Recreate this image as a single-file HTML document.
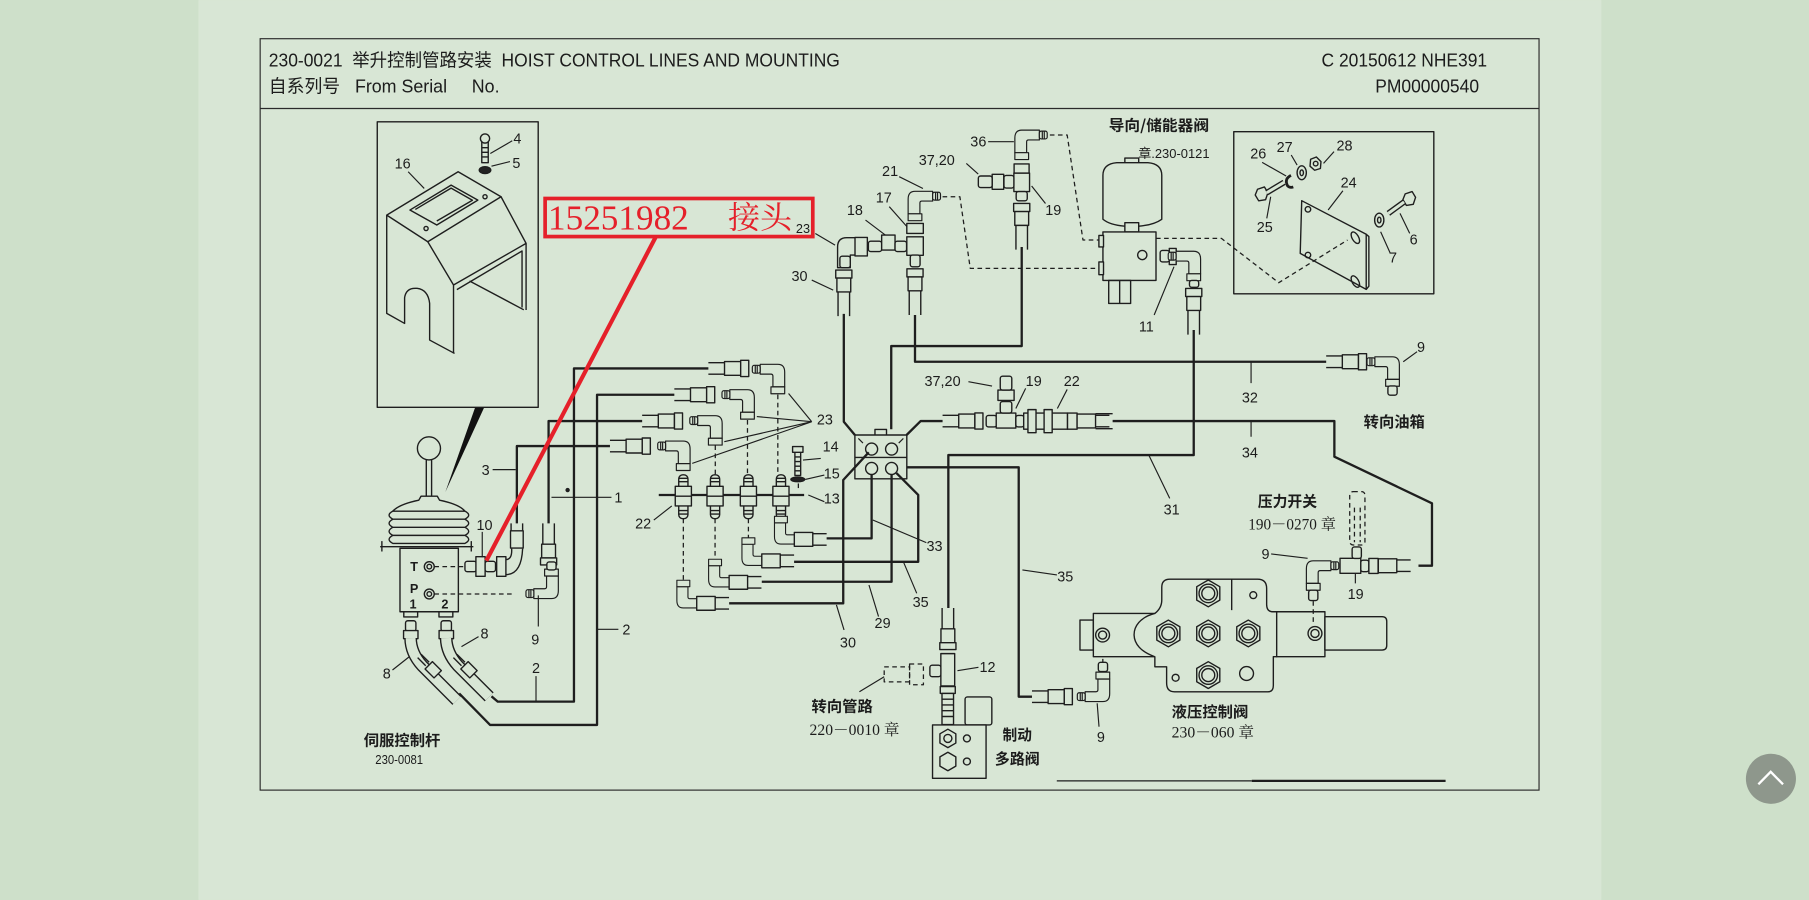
<!DOCTYPE html>
<html><head><meta charset="utf-8"><style>
html,body{margin:0;padding:0;width:1809px;height:900px;overflow:hidden;background:#cee0ca;}
svg{display:block}
text{font-family:"Liberation Sans","Noto Sans CJK SC",sans-serif;fill:#1c1c1c;stroke:none}
.f{fill:#d8e6d5}
.p{stroke-width:2}
.t{stroke-width:1}
.d{stroke-dasharray:4 3;stroke-width:1.1}
.lb{font-size:12.5px;text-anchor:middle}
.cj{font-family:"Noto Sans CJK SC","WenQuanYi Zen Hei",sans-serif;font-weight:bold;font-size:13px}
.sf{font-family:"Liberation Serif","Noto Serif CJK SC",serif;font-size:13.5px}
.red1{font-family:"Liberation Serif",serif;font-size:30px;fill:#e5202a}
.red2{font-family:"Noto Serif CJK SC","Liberation Serif",serif;font-size:27px;fill:#e5202a}
.jl{font-size:11px;font-weight:bold;text-anchor:middle}
</style></head><body>
<svg width="1809" height="900" viewBox="0 0 1568 780" xmlns="http://www.w3.org/2000/svg">
<defs>
<g id="hr" class="f"><path d="M0,-5H14M0,5H14" fill="none"/><rect x="14" y="-6" width="14" height="12"/><rect x="28" y="-7" width="7" height="14"/></g>
<g id="hl" class="f"><rect x="0" y="-6" width="16" height="12"/><path d="M16,-5H28M16,5H28" fill="none"/></g>
<g id="hd" class="f"><rect x="-7" y="0" width="14" height="7"/><rect x="-6" y="7" width="12" height="12"/><path d="M-5,19V40M5,19V40" fill="none"/></g>
<g id="hu" class="f"><path d="M-5,0V18M5,0V18" fill="none"/><rect x="-6" y="18" width="12" height="12"/><rect x="-7" y="30" width="14" height="6"/></g>
<g id="el" class="f"><path d="M-18,-5H0Q7,-5 7,3V18H-5V7Q-5,5 -7,5H-18Z"/><rect x="-26" y="-4" width="8" height="8" rx="2"/><path d="M-23,-4V4M-21,-4V4" fill="none"/><rect x="-7" y="18" width="14" height="7"/></g>
<g id="bh" class="f"><rect x="-4" y="0" width="8" height="38" rx="3.5"/><rect x="-7" y="10" width="14" height="17"/><path d="M-7,18.5H7M-4,3H4M-4,6H4M-4,31H4M-4,34H4" fill="none"/></g>
<g id="port" class="f"><polygon points="0,-11.6 10,-5.8 10,5.8 0,11.6 -10,5.8 -10,-5.8"/><circle r="8"/><circle r="5.6"/></g>
</defs>

<!-- backgrounds -->
<rect width="1568" height="780" fill="#cee0ca"/>
<rect x="172" y="0" width="1216" height="780" fill="#d8e6d5"/>

<!-- frame -->
<g fill="none" stroke="#2a2a2a" stroke-width="1">
<rect x="225.5" y="33.5" width="1108.5" height="651.3"/>
<line x1="225.5" y1="94" x2="1334" y2="94"/>
</g>
<text x="233" y="57.5" font-size="16" textLength="495" lengthAdjust="spacingAndGlyphs" xml:space="preserve">230-0021  举升控制管路安装  HOIST CONTROL LINES AND MOUNTING</text>
<text x="233" y="80.3" font-size="16" textLength="200" lengthAdjust="spacingAndGlyphs" xml:space="preserve">自系列号   From Serial     No.</text>
<text x="1145.5" y="57.5" font-size="16" textLength="143.5" lengthAdjust="spacingAndGlyphs">C 20150612 NHE391</text>
<text x="1192" y="80.3" font-size="16" textLength="90" lengthAdjust="spacingAndGlyphs">PM00000540</text>

<g fill="none" stroke="#1e1e1e" stroke-width="1.2" stroke-linejoin="round">
<!-- cover inset -->
<rect x="327" y="105.5" width="139.5" height="247.5"/>
<path d="M335.2,186.4 L397.1,148.8 L434.3,170.5 L370.8,209.5 Z"/>
<path d="M355.3,182 L391,160.4 L414.2,173.4 L378.6,195 Z"/>
<path d="M360,181.5 L391,163 L409.5,173.5 L378.6,191.5"/>
<circle cx="369.3" cy="198" r="1.8"/><circle cx="420.4" cy="170.5" r="1.8"/>
<path d="M434.3,170.5 L456,210.9 V268.7 M393.1,247 L456,210.9 M370.8,209.5 L393.1,247 V306.3"/>
<path d="M335.2,186.4 V271.6 L350.7,280.3 V258 Q352,249 361.5,249.9 Q371,251 372.4,262.9 V294.7 L394,306.3"/>
<path d="M396,251 L452.5,217.5 V266.5 M407,243.5 L454,268.5"/>
<!-- bolt 4 washer 5 -->
<circle cx="420.4" cy="120" r="4"/>
<path d="M417.6,123 V141 H423.2 V123 M417.6,128H423.2M417.6,132H423.2M417.6,136H423.2"/>
<ellipse cx="420.4" cy="147.4" rx="5" ry="3" fill="#222"/>
<path class="t" d="M425,133 L444,122 M426,144 L442,140 M353.8,148.8 L367.7,163.3"/>
</g>
<polygon points="411.7,353.5 419.5,353.5 386,426.5" fill="#111"/>

<text class="lb" x="349" y="146">16</text>
<text class="lb" x="448.5" y="124.5">4</text>
<text class="lb" x="447.6" y="145.5">5</text>

<!-- main drawing -->
<g fill="none" stroke="#1e1e1e" stroke-width="1.2" stroke-linejoin="round">
<!-- left pipes -->
<path class="p" d="M614,319.3 H497.5 V608.1 H431.4 L426,603.5"/>
<path class="p" d="M584.5,342.1 H517.5 V628.3 H424.8 L398,601"/>
<path class="p" d="M556.6,364.9 H475.5 V453.6"/>
<path class="p" d="M528.7,386.6 H448 V453.6"/>
<circle cx="492" cy="424.7" r="1.3" fill="#222"/>
<!-- joystick -->
<circle cx="371.8" cy="388.6" r="10"/>
<path d="M369.5,398.5 V430 M374.1,398.5 V430"/>
<path d="M365,430 H379 L381,433.5 Q398,437 403,443 H340.5 Q346,437 363,433.5 Z" class="f"/>
<path d="M340.5,443 Q334,446.5 340.5,450 H403 Q409.5,446.5 403,443 M340.5,450 Q334,453.5 340.5,457 H403 Q409.5,453.5 403,450 M340.5,457 Q334,460.5 340.5,464 H403 Q409.5,460.5 403,457 M340.5,464 Q334,467.5 340.5,471 H403 Q409.5,467.5 403,464"/>
<path d="M329.5,473.8 H410.3 M331,469 V478 M408.5,469 V478"/>
<rect x="346.7" y="475.2" width="50.6" height="55" class="f"/>
<circle cx="372.1" cy="491.1" r="4.3"/><circle cx="372.1" cy="491.1" r="2"/>
<circle cx="372.1" cy="514.8" r="4.3"/><circle cx="372.1" cy="514.8" r="2"/>
<rect x="350" y="530.2" width="12" height="4.5"/><rect x="380.5" y="530.2" width="12" height="4.5"/>
<path class="d" d="M376.5,491.1 H403 M376.5,514.8 H446"/>
<!-- fitting 10 -->
<rect x="403" y="486.5" width="10" height="9" rx="2" class="f"/>
<rect x="412.5" y="482.5" width="8" height="17" class="f"/>
<rect x="420.5" y="486.5" width="9" height="9" rx="2" class="f"/>
<rect x="430.5" y="482.5" width="8" height="17" class="f"/>
<path d="M438.5,485 Q444,485 443.5,475.5 M438.5,498 Q452,498 453,475.5"/>
<path d="M443,453.6 V475.3 M453,453.6 V475.3"/>
<rect x="442.5" y="460" width="11" height="15" class="f"/>
<use href="#hu" x="475.5" y="453.6"/>
<!-- elbow 9 joystick -->
<use href="#el" transform="translate(478,514.5) scale(0.85,-0.85)"/>
<rect x="474" y="487" width="8" height="7" rx="2" class="f"/>
<!-- fittings 8 -->
<rect x="351.5" y="538" width="9" height="9" rx="2" class="f"/>
<rect x="349.8" y="546.5" width="12.5" height="7" class="f"/>
<rect x="382.3" y="538" width="9" height="9" rx="2" class="f"/>
<rect x="380.6" y="546.5" width="12.5" height="7" class="f"/>
<path d="M355.9,553 Q356,566 366,577 L396,607" stroke="#1e1e1e" stroke-width="11"/>
<path d="M355.9,553 Q356,566 366,577 L396,607" stroke="#d8e6d5" stroke-width="8.6"/>
<path d="M386.7,553 Q387,566 397,577 L424,604" stroke="#1e1e1e" stroke-width="11"/>
<path d="M386.7,553 Q387,566 397,577 L424,604" stroke="#d8e6d5" stroke-width="8.6"/>
<path d="M362,570 L369,577 M365,567 L372,574 M393,570 L400,577 M396,567 L403,574"/>
<rect x="370" y="576" width="11" height="9" transform="rotate(45 375.5 580.5)" class="f"/>
<rect x="401" y="576" width="11" height="9" transform="rotate(45 406.5 580.5)" class="f"/>

<!-- left hose ends -->
<use href="#hr" x="614" y="319.3"/>
<use href="#hr" x="584.5" y="342.1"/>
<use href="#hr" x="556.6" y="364.9"/>
<use href="#hr" x="528.7" y="386.6"/>
<use href="#el" transform="translate(674.2,320) scale(0.85)"/>
<use href="#el" transform="translate(647.9,342) scale(0.85)"/>
<use href="#el" transform="translate(620,364.5) scale(0.85)"/>
<use href="#el" transform="translate(592.2,386.5) scale(0.85)"/>
<path class="d" d="M674.2,342 V411 M647.9,364 V411 M620,386 V411"/>
<!-- bulkhead plate -->
<path class="p" d="M571,429 H697"/>
<use href="#bh" x="592.3" y="411.5"/>
<use href="#bh" x="619.8" y="411.5"/>
<use href="#bh" x="648.7" y="411.5"/>
<use href="#bh" x="676.9" y="411.5"/>
<!-- bolt 14 / washer 15 -->
<rect x="687" y="387" width="9" height="5" class="f"/>
<path d="M689,392 V412 H694 V392 M689,396H694M689,400H694M689,404H694M689,408H694"/>
<ellipse cx="691.5" cy="415.5" rx="6" ry="2" fill="#222"/>
<path class="d" d="M692,419 V426"/>
<path class="d" d="M592.3,449.5 V503 M619.8,449.5 V485 M648.7,449.5 V466"/>
<!-- lower elbows -->
<use href="#el" transform="translate(592.3,522.9) rotate(180) scale(0.8)"/>
<use href="#el" transform="translate(619.8,504.7) rotate(180) scale(0.8)"/>
<use href="#el" transform="translate(648.7,486.1) rotate(180) scale(0.8)"/>
<use href="#el" transform="translate(676.9,467.5) rotate(180) scale(0.8)"/>
<use href="#hl" x="603.9" y="522.9"/>
<use href="#hl" x="632" y="504.7"/>
<use href="#hl" x="660.3" y="486.1"/>
<use href="#hl" x="688.5" y="467.5"/>

<!-- manifold block -->
<rect x="758.4" y="372.2" width="10" height="5" class="f"/>
<rect x="741" y="377" width="45" height="38" class="f"/>
<path d="M741,396.4 H786"/>
<circle cx="755.5" cy="389.2" r="5.2"/><circle cx="772.8" cy="389.2" r="5.2"/>
<circle cx="755.5" cy="406" r="5.2"/><circle cx="772.8" cy="406" r="5.2"/>
<path class="t" d="M744,380 L748,384 M783,380 L779,384"/>
<!-- manifold pipes -->
<path class="p" d="M731.4,272 V365.5 L741,377"/>
<path class="p" d="M885.6,214 V299.9 H772.5 V372"/>
<path class="p" d="M793.1,273 V313.5 H1149.5"/>
<path class="p" d="M785.8,377 L798,364.9 H817"/>
<path class="p" d="M964.4,364.9 H1156.6 V395.8 L1241.2,436.2 V490.3 H1229.5"/>
<path class="p" d="M1034.7,286 V394.4 H822 V527"/>
<path class="p" d="M786,405 H883 V603.8 H894.5"/>
<path class="p" d="M753,392 L730.9,416 V522.9 H632"/>
<path class="p" d="M755.5,411 V466.6 H716.5"/>
<path class="p" d="M772.8,411 V504.2 H660.3"/>
<path class="p" d="M777,410 L795.9,429 V486.9 H688.3"/>

<!-- top fittings -->
<path d="M726,232 V214 Q726,206 734,206 H742 V221 H737 V232 Z" class="f"/>
<rect x="741.1" y="205.8" width="10.7" height="16" class="f"/>
<rect x="728" y="222" width="9" height="10" rx="2" class="f"/>
<use href="#hd" x="731.4" y="234"/>
<rect x="752.7" y="209" width="11.5" height="9" rx="2" class="f"/>
<rect x="764.2" y="203.7" width="11.6" height="13" class="f"/>
<rect x="775.8" y="209" width="10" height="9" rx="2" class="f"/>
<rect x="786" y="205.2" width="14.3" height="16" class="f"/>
<rect x="786" y="193.6" width="14.3" height="8.7" class="f"/>
<rect x="789" y="221" width="8.5" height="10.2" rx="2" class="f"/>
<use href="#hd" x="793.1" y="233"/>
<use href="#el" transform="translate(793.1,170) scale(-0.85,0.85)"/>
<path class="d" d="M817,170.5 H832 L841,232.6 H956"/>
<!-- tee 19 top + 37,20 + elbow 36 -->
<rect x="878.8" y="150" width="13.6" height="16" class="f"/>
<rect x="870.2" y="152" width="8.6" height="11" rx="2" class="f"/>
<rect x="860" y="151" width="10" height="13" class="f"/>
<rect x="848" y="152.5" width="12" height="10" rx="2" class="f"/>
<rect x="880.8" y="166" width="9.6" height="8" rx="2" class="f"/>
<rect x="879" y="142" width="13" height="8" class="f"/>
<use href="#el" transform="translate(885.6,117) scale(-0.85,0.85)"/>
<use href="#hd" x="885.6" y="176.3"/>
<path class="d" d="M910,117 H925 L938.7,208 H956"/>
<!-- accumulator / valve -->
<rect x="975" y="137" width="12" height="6" class="f"/>
<path d="M956,190 V152 Q956,142 968,141 H995 Q1007,142 1007,152 V190 Q1000,195 987,196 H975 Q962,195 956,190 Z" class="f"/>
<rect x="975" y="193" width="12" height="8" class="f"/>
<rect x="956" y="201" width="46" height="42" class="f"/>
<rect x="952.5" y="204" width="4" height="10" class="f"/>
<rect x="952.5" y="227" width="4" height="11" class="f"/>
<circle cx="990.1" cy="221" r="4"/>
<rect x="961" y="243" width="19" height="20"/>
<path d="M970.5,243 V263"/>
<path class="d" d="M1002,206.6 H1058.7 L1108.4,245 L1168,208"/>
<!-- fitting 11 -->
<rect x="1005.6" y="217" width="8" height="10" rx="2" class="f"/>
<rect x="1013.5" y="215.3" width="6" height="14" class="f"/>
<use href="#el" transform="translate(1034.7,222) scale(0.85)"/>
<rect x="1031" y="243" width="8" height="6" rx="2" class="f"/>
<use href="#hd" x="1034.7" y="250"/>
<!-- plate inset -->
<rect x="1069.4" y="114.1" width="173.4" height="140.5"/>
<path d="M1128.3,173.9 L1184.2,203 V250.8 L1127,219.6 Z"/>
<path d="M1184.2,203 L1186.5,205 V248 L1184.2,250.8"/>
<circle cx="1133.7" cy="181.4" r="2.4"/><circle cx="1133.7" cy="221" r="2.4"/>
<ellipse cx="1174.8" cy="206" rx="2.8" ry="5.5" transform="rotate(-30 1174.8 206)"/>
<ellipse cx="1174.8" cy="244" rx="2.8" ry="5.5" transform="rotate(-30 1174.8 244)"/>
<polygon points="1090,164 1096,162 1099,167 1097,173 1091,174 1088,169" class="f"/>
<path d="M1098,167 L1113,158" stroke-width="5"/>
<path d="M1098,167 L1113,158" stroke="#d8e6d5" stroke-width="2.6"/>
<path d="M1119,152 Q1113,155 1116,161 Q1118,163 1121,162" stroke-width="2.4"/>
<ellipse cx="1128.3" cy="149.7" rx="4" ry="6"/><ellipse cx="1128.3" cy="149.7" rx="1.5" ry="2.5"/>
<polygon points="1136,138 1141,136 1145,140 1144.5,146 1139.5,147.5 1135.5,144" class="f"/>
<circle cx="1140.4" cy="141.8" r="2"/>
<polygon points="1218,168 1224,166 1227,171 1225,177 1219,178 1216,173" class="f"/>
<path d="M1217,175 L1203.4,184.9" stroke-width="5"/>
<path d="M1217,175 L1203.4,184.9" stroke="#d8e6d5" stroke-width="2.6"/>
<ellipse cx="1195.5" cy="190.7" rx="4" ry="6"/><ellipse cx="1195.5" cy="190.7" rx="1.5" ry="2.5"/>
<!-- tank hose / elbow 9 -->
<use href="#hr" x="1149.5" y="313.5"/>
<use href="#el" transform="translate(1207,313.5) scale(0.85)"/>
<rect x="1203" y="334.5" width="8" height="8" rx="2" class="f"/>
<!-- middle tee assembly -->
<use href="#hr" x="817" y="364.9"/>
<rect x="854.8" y="360" width="9" height="10" rx="2" class="f"/>
<rect x="863.5" y="358" width="17" height="13" class="f"/>
<rect x="867" y="348" width="10" height="10" rx="2" class="f"/>
<rect x="865" y="338" width="14" height="9" class="f"/>
<rect x="867" y="326" width="10" height="12" rx="2" class="f"/>
<rect x="880.5" y="360" width="7" height="10" rx="2" class="f"/>
<rect x="887.3" y="358" width="38" height="14" class="f"/>
<rect x="891" y="355" width="7" height="20" class="f"/>
<rect x="905" y="355" width="7" height="20" class="f"/>
<rect x="925.3" y="358" width="8.3" height="14" class="f"/>
<use href="#hl" x="933.6" y="364.9"/>
<path d="M949.6,358.5 H964.4 M949.6,371.5 H964.4"/>
<!-- line 35 right end / elbow 9 bottom -->
<use href="#hr" x="894.5" y="603.8"/>
<use href="#el" transform="translate(955.9,603.8) scale(0.85,-0.85)"/>
<rect x="952" y="574" width="8" height="8" rx="2" class="f"/>
<path class="d" d="M955.9,557 V574"/>
<!-- hydraulic control valve -->
<rect x="936.1" y="537.4" width="11.6" height="26" class="f"/>
<rect x="947.7" y="531.7" width="53.4" height="37.5" class="f"/>
<path class="f" d="M1001,531.7 C988,535 983,543 983,550 C983,558 989,565 1001,569.2 V577.9 H1011.2 V592 Q1011.2,599.6 1018,599.6 H1099 Q1103.7,599.6 1103.7,594 V569.2 H1106.6 V530.2 H1103 Q1098,530 1097.9,524 V510 Q1097.9,502 1090,502 H1014 Q1007,502 1007,509 V520 Q1007,527 1001,531.7 Z"/>
<path d="M1067.6,502 V528.8"/>
<rect x="1106.6" y="530.2" width="41.8" height="39" class="f"/>
<path class="f" d="M1148.4,534.5 H1198 Q1202,534.5 1202,538.5 V559.4 Q1202,563.4 1198,563.4 H1148.4 Z"/>
<use href="#port" x="1047.3" y="514.3"/>
<use href="#port" x="1012.7" y="549"/>
<use href="#port" x="1047.3" y="549"/>
<use href="#port" x="1082" y="549"/>
<use href="#port" x="1047.3" y="585.1"/>
<circle cx="1086.3" cy="515.8" r="3"/>
<circle cx="1019" cy="587.4" r="3"/>
<circle cx="1080.5" cy="583.7" r="6"/>
<circle cx="955.7" cy="550.4" r="6"/><circle cx="955.7" cy="550.4" r="3.5"/>
<circle cx="1139.8" cy="549" r="6"/><circle cx="1139.8" cy="549" r="3.5"/>
<!-- pressure switch -->
<rect class="d" x="1169.9" y="426.1" width="13.2" height="46.2" rx="3"/>
<path class="d" d="M1174,440 V470 M1179,440 V470"/>
<rect x="1161.5" y="483.9" width="18" height="13" class="f"/>
<rect x="1172" y="474" width="8" height="10" rx="2" class="f"/>
<rect x="1179.5" y="485.5" width="7" height="10" rx="2" class="f"/>
<rect x="1186.5" y="484" width="8" height="13" class="f"/>
<use href="#hl" x="1194.7" y="490.3"/>
<use href="#el" transform="translate(1138.3,490.3) scale(-0.85,0.85)"/>
<rect x="1134.3" y="511.5" width="8" height="9" rx="2" class="f"/>
<path class="d" d="M1138.3,521 V542"/>
<!-- brake valve assembly -->
<use href="#hu" x="821.6" y="527"/>
<rect x="815.5" y="566.5" width="12" height="28" class="f"/>
<rect x="806" y="576.5" width="9.5" height="10" rx="2" class="f"/>
<rect x="815" y="595" width="13" height="6" class="f"/>
<rect x="816.5" y="601" width="10" height="27" class="f"/>
<path d="M816.5,606H826.5M816.5,611H826.5M816.5,616H826.5M816.5,621H826.5"/>
<rect class="d" x="766.4" y="578" width="22" height="13"/>
<rect class="d" x="788.4" y="575.5" width="12" height="18"/>
<rect x="836.5" y="604" width="23.2" height="24.3" rx="2" class="f"/>
<rect x="808.3" y="628.3" width="46.4" height="46.3" class="f"/>
<polygon points="821.6,632 828.5,636 828.5,644 821.6,648 814.7,644 814.7,636"/>
<circle cx="821.6" cy="640" r="3.5"/>
<polygon points="821.6,652 828.5,656 828.5,664 821.6,668 814.7,664 814.7,656"/>
<circle cx="838.1" cy="640" r="3"/><circle cx="838.1" cy="660" r="3"/>

<!-- leaders -->
<g class="t">
<path d="M427,407 H447 M478,431 H530 M518,545.4 H536 M464.6,586 V608 M466.6,516 V543 M418,461 V483"/>
<path d="M414.8,551.8 L400,560.4 M340.2,580.7 L355,569 M566.7,450.7 L582.3,438.5"/>
<path d="M802.9,470.3 L756.5,450.7 M794.6,514.2 L783,486.8 M761.5,534.4 L753.2,507 M731.6,546 L725,524.3"/>
<path d="M703.6,365.5 L683.5,341 M703.6,365.5 L656,361 M703.6,365.5 L627.8,382.8 M703.6,365.5 L600,401.6"/>
<path d="M711.4,397.3 L696,398.7 M714.5,411.7 L698,415.5 M714.5,434.8 L700.6,429"/>
<path d="M750.2,190.7 L767.4,203.7 M770.8,179.1 L786.2,196.5 M779.4,153.1 L800,163.3 M837.6,141.6 L847.9,150.8 M856.5,122.8 L878.8,122.8 M894.2,161.2 L906.2,176.3"/>
<path d="M1000.4,273 L1017.6,231.1 M1228.3,304.8 L1216.3,313.5 M1084.4,313.5 V332 M1084.4,364.9 V378.5"/>
<path d="M839.4,330.8 L859.9,334.6 M889,336.6 L880.5,354 M925,337.5 L916.5,354 M703.6,242.7 L722.2,251.4 M706.7,202.3 L723.8,212.4"/>
<path d="M995.7,394.3 L1013.9,431.9 M886.2,494 L916.1,498.3 M829.9,581.3 L848.1,578.4 M951,609.6 L952.6,629.8 M1101.8,480.1 L1133.4,483.9 M1174.8,497.5 V505.6 M744.9,599.5 L766.4,586.5"/>
<path d="M1094,140.7 L1114.8,152.5 M1119.2,134.3 L1124.3,143 M1156.3,131.4 L1147.2,141.6 M1164,165.3 L1151.2,182 M1101.4,170.5 L1098,189.2 M1221.9,202.2 L1213.5,184.9 M1205.1,219.6 L1196.7,200.8"/>
</g>
<!-- bottom rule -->
<path d="M916,676.8 H1085" stroke-width="1"/>
<path d="M1085,676.8 H1253" stroke-width="2"/>
</g>

<!-- joystick letters -->
<text class="jl" x="359" y="495">T</text>
<text class="jl" x="359" y="514">P</text>
<text class="jl" x="358" y="527.5">1</text>
<text class="jl" x="385.6" y="527.5">2</text>

<!-- number labels -->
<g class="lb">
<text x="421" y="411.5">3</text>
<text x="536" y="435.5">1</text>
<text x="557.5" y="458">22</text>
<text x="420" y="459.5">10</text>
<text x="464" y="558.5">9</text>
<text x="543" y="550">2</text>
<text x="464.6" y="583.5">2</text>
<text x="420" y="553.5">8</text>
<text x="335.2" y="588">8</text>
<text x="810" y="477.5">33</text>
<text x="798" y="526">35</text>
<text x="765" y="544.5">29</text>
<text x="735" y="561">30</text>
<text x="715" y="368">23</text>
<text x="720" y="391.5">14</text>
<text x="721" y="414.5">15</text>
<text x="721" y="436.5">13</text>
<text x="693" y="243.5">30</text>
<text x="741" y="186.5">18</text>
<text x="766" y="175.5">17</text>
<text x="771.5" y="152.5">21</text>
<text x="812" y="143">37,20</text>
<text x="848" y="127">36</text>
<text x="913" y="186.5">19</text>
<text x="817" y="334.5">37,20</text>
<text x="896" y="334.5">19</text>
<text x="929" y="334.5">22</text>
<text x="1083.4" y="349">32</text>
<text x="1083.4" y="396.5">34</text>
<text x="1231.7" y="305">9</text>
<text x="993.6" y="287.5">11</text>
<text x="1015.6" y="446">31</text>
<text x="923.4" y="504">35</text>
<text x="856" y="582.5">12</text>
<text x="954.2" y="643">9</text>
<text x="1096.9" y="484.5">9</text>
<text x="1175" y="519">19</text>
<text x="1090.6" y="137.5">26</text>
<text x="1113.5" y="131.5">27</text>
<text x="1165.4" y="130.5">28</text>
<text x="1169" y="162.5">24</text>
<text x="1096.3" y="201">25</text>
<text x="1225.3" y="212">6</text>
<text x="1207.4" y="227.5">7</text>
</g>
<text x="696" y="202" font-size="11" text-anchor="middle">23</text>

<!-- CJK labels -->
<text class="cj" x="961" y="113" font-size="12.5" textLength="87" lengthAdjust="spacingAndGlyphs">导向/储能器阀</text>
<text x="986.7" y="137" font-size="11.5" textLength="61.7" lengthAdjust="spacingAndGlyphs">章.230-0121</text>
<text class="cj" x="1182" y="370" textLength="53" lengthAdjust="spacingAndGlyphs">转向油箱</text>
<text class="cj" x="1090.2" y="439" textLength="51.4" lengthAdjust="spacingAndGlyphs">压力开关</text>
<text class="sf" x="1082" y="459" textLength="76" lengthAdjust="spacingAndGlyphs">190－0270 章</text>
<text class="cj" x="1015.6" y="621.5" textLength="66.4" lengthAdjust="spacingAndGlyphs">液压控制阀</text>
<text class="sf" x="1015.6" y="639" textLength="71.4" lengthAdjust="spacingAndGlyphs">230－060 章</text>
<text class="cj" x="869" y="641.5" textLength="25.5" lengthAdjust="spacingAndGlyphs">制动</text>
<text class="cj" x="862.4" y="662" textLength="38.8" lengthAdjust="spacingAndGlyphs">多路阀</text>
<text class="cj" x="703.4" y="616.5" textLength="53.1" lengthAdjust="spacingAndGlyphs">转向管路</text>
<text class="sf" x="701.7" y="637" textLength="78" lengthAdjust="spacingAndGlyphs">220－0010 章</text>
<text class="cj" x="315.3" y="646" textLength="66.4" lengthAdjust="spacingAndGlyphs">伺服控制杆</text>
<text x="325.3" y="662" font-size="11.5" textLength="41.4" lengthAdjust="spacingAndGlyphs">230-0081</text>

<!-- red annotation -->
<rect x="472.5" y="172" width="232" height="33" fill="none" stroke="#e5202a" stroke-width="3.2"/>
<text class="red1" x="475" y="199" textLength="122" lengthAdjust="spacingAndGlyphs">15251982</text>
<text class="red2" x="631" y="198" textLength="55.6" lengthAdjust="spacingAndGlyphs">接头</text>
<line x1="568.3" y1="205.5" x2="421.5" y2="486" stroke="#e5202a" stroke-width="3.6"/>

<!-- back-to-top button -->
<circle cx="1535" cy="675" r="21.7" fill="#8e978c"/>
<path d="M1524.1,679.8 L1534.8,668.9 L1545.5,679.8" fill="none" stroke="#ffffff" stroke-width="2"/>
</svg>
</body></html>
